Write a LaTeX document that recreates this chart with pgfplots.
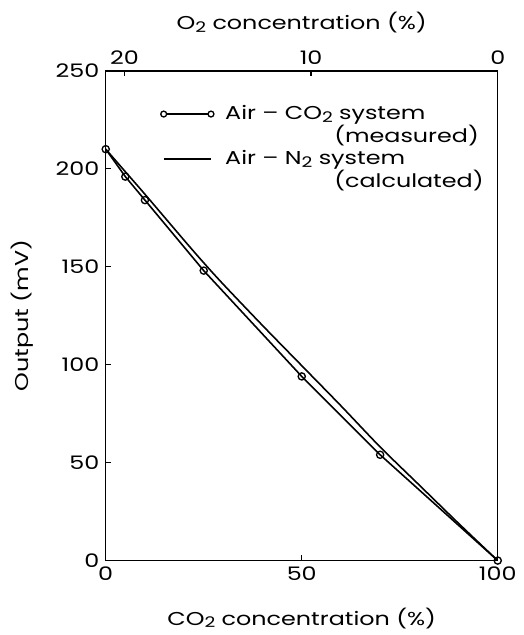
\documentclass[border=0pt]{standalone}
\usepackage{fontspec}
\setmainfont{Poppins}[FakeStretch=1.28]
\usepackage{pgfplots}
\pgfplotsset{compat=1.18}
\usetikzlibrary{calc}
\newcommand{\two}{\raisebox{-0.25ex}{\fontsize{11}{12}\selectfont 2}}
\newcommand{\chartfont}{\fontsize{14}{17}\selectfont}

\begin{document}
\chartfont
\begin{tikzpicture}
\begin{axis}[
    name=ax,
    scale only axis,
    width=294.75pt,
    height=368.25pt,
    xmin=0, xmax=100,
    ymin=0, ymax=250,
    xtick={0,50,100},
    ytick={0,50,100,150,200,250},
    tick pos=left,
    tick align=inside,
    major tick length=4pt,
    axis line style={line width=1.1pt},
    tick style={line width=1pt, black},
    /pgf/number format/assume math mode=true,
    ticklabel style={font=\chartfont},
    label style={font=\chartfont},
    xlabel={CO\two{} concentration (\%)},
    ylabel={Output (mV)},
    xlabel style={at={(axis description cs:0.5,-0.118)}, anchor=center},
    ylabel style={at={(axis description cs:-0.214,0.5)}, anchor=center},
    legend style={draw=none, fill=none, inner sep=0pt, at={(0.138,0.935)}, anchor=north west,
        font=\chartfont, cells={align=left, anchor=west},
        row sep=0pt, column sep=6pt},
]
\addplot[black, line width=1.2pt, mark=o, mark size=2.7pt, mark options={fill=white, line width=1pt},
    legend image code/.code={
        \draw[line width=1pt] (0cm,8.5pt) -- (1.25cm,8.5pt);
        \draw[line width=1pt, fill=white] (0cm,8.5pt) circle (2.2pt) (1.25cm,8.5pt) circle (2.2pt);
    }] coordinates {
    (0,210) (5,196) (10,184) (25,148) (50,94) (70,54) (100,0)
};
\addlegendentry{Air -- CO\two{} system\\\hspace*{82pt}(measured)}
\addplot[black, line width=1.2pt, smooth,
    legend image code/.code={
        \draw[line width=1pt] (0cm,8.5pt) -- (1.25cm,8.5pt);
    }] coordinates {
    (0,210) (5,198.5) (10,187) (20,163.5) (25,152) (30,141) (40,120) (50,99.5) (60,79) (70,58) (80,38.5) (90,19) (100,0)
};
\addlegendentry{Air -- N\two{} system\\\hspace*{82pt}(calculated)}
\end{axis}
\begin{axis}[
    scale only axis,
    width=294.75pt,
    height=368.25pt,
    xmin=0, xmax=100,
    ymin=0, ymax=250,
    axis x line*=top,
    hide y axis,
    xtick={4.762,52.381,100},
    xticklabels={20,10,0},
    tick align=inside,
    major tick length=4pt,
    axis line style={line width=1.1pt},
    tick style={line width=1pt, black},
    /pgf/number format/assume math mode=true,
    ticklabel style={font=\chartfont},
    label style={font=\chartfont},
    xlabel={O\two{} concentration (\%)},
    xlabel style={at={(axis description cs:0.5,1.098)}, anchor=center},
]
\end{axis}
\path ($(ax.south west)+(-79.5pt,-54.75pt)$) rectangle ($(ax.north east)+(19.5pt,53.25pt)$);
\end{tikzpicture}
\end{document}
